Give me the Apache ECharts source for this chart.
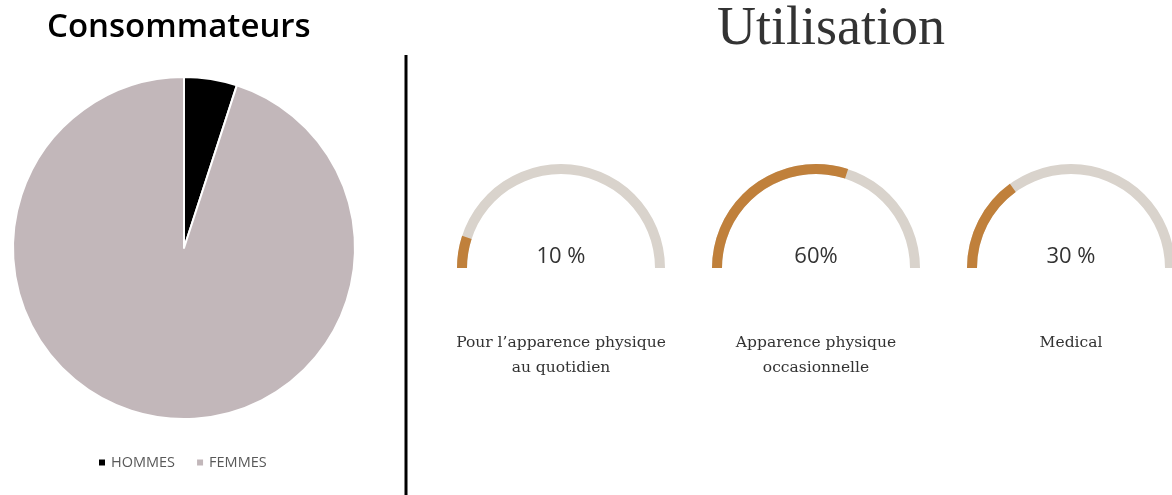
<!doctype html>
<html lang="fr">
<head>
    <meta charset="UTF-8" />
    <title>Consommateurs / Utilisation</title>
    <script src="https://cdn.jsdelivr.net/npm/echarts@6/dist/echarts.min.js"></script>
    <style>
        html, body { margin: 0; padding: 0; background: #fff; }
        #main { width: 1172px; height: 495px; }
    </style>
</head>
<body>
    <div id="main"></div>
    <script type="text/javascript">
        // données
        var pieNames = ['HOMMES', 'FEMMES'];
        var pieValues = [5, 95];
        var pieColors = ['#000000', '#c2b7ba'];

        var usageNames = ['Pour l\u2019apparence physique\nau quotidien', 'Apparence physique\noccasionnelle', 'Medical'];
        var usageValues = [10, 60, 30];
        var usageLabels = ['10 %', '60%', '30 %'];
        var gaugeX = [561, 816, 1071];

        var chart = echarts.init(document.getElementById('main'));

        var pieData = [];
        for (var i = 0; i < pieNames.length; i++) {
            pieData.push({ name: pieNames[i], value: pieValues[i], itemStyle: { color: pieColors[i] } });
        }

        var series = [{
            type: 'pie',
            center: [184, 248],
            radius: 171,
            startAngle: 90,
            label: { show: false },
            labelLine: { show: false },
            emphasis: { disabled: true },
            itemStyle: { borderColor: '#fff', borderWidth: 2 },
            data: pieData
        }];

        usageValues.forEach(function (v, idx) {
            var nLines = usageNames[idx].split('\n').length;
            series.push({
                type: 'gauge',
                center: [gaugeX[idx], 268],
                radius: 104,
                startAngle: 180,
                endAngle: 0,
                min: 0,
                max: 100,
                pointer: { show: false },
                axisTick: { show: false },
                splitLine: { show: false },
                axisLabel: { show: false },
                anchor: { show: false },
                axisLine: { lineStyle: { width: 10, color: [[1, '#d9d3cc']] } },
                progress: { show: true, width: 10, roundCap: false, itemStyle: { color: '#c0803b' } },
                title: {
                    offsetCenter: [0, 75 + (nLines - 1) * 12.5],
                    fontFamily: 'DejaVu Serif',
                    fontSize: 15.5,
                    lineHeight: 25,
                    color: '#333'
                },
                detail: {
                    offsetCenter: [0, -11],
                    fontFamily: 'Open Sans',
                    fontSize: 22,
                    fontWeight: 'normal',
                    color: '#333',
                    formatter: function () { return usageLabels[idx]; }
                },
                data: [{ name: usageNames[idx], value: v }]
            });
        });

        var option = {
            animation: false,
            title: [{
                text: 'Consommateurs',
                left: 42,
                top: 6,
                textStyle: { fontFamily: 'Open Sans', fontWeight: 600, fontSize: 33, color: '#000' }
            }, {
                text: 'Utilisation',
                left: 826,
                textAlign: 'center',
                top: -2,
                textStyle: { fontFamily: 'Liberation Serif', fontWeight: 'normal', fontSize: 54, color: '#333' }
            }],
            legend: {
                data: pieNames,
                left: 92,
                top: 450,
                icon: 'rect',
                itemWidth: 8,
                itemHeight: 8,
                itemGap: 20,
                textStyle: { fontFamily: 'Open Sans', fontSize: 14.5, color: '#595959' }
            },
            graphic: [{
                type: 'line',
                shape: { x1: 406, y1: 55, x2: 406, y2: 495 },
                style: { stroke: '#000', lineWidth: 3 }
            }],
            series: series
        };

        chart.setOption(option);
    </script>
</body>
</html>
